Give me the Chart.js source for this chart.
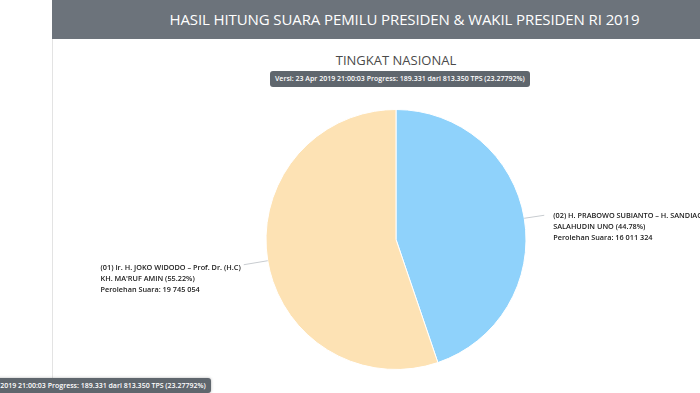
<!DOCTYPE html>
<html>
<head>
<meta charset="utf-8">
<script src="https://cdn.jsdelivr.net/npm/chart.js@4"></script>
<style>
  html, body { margin: 0; padding: 0; background: #fff; }
  body { width: 700px; height: 393px; position: relative; overflow: hidden; font-family: "Open Sans", sans-serif; }
  #side { position: absolute; left: 52px; top: 0; width: 1px; height: 393px; background: #e3e3e3; }
  #header { position: absolute; left: 52px; top: 0; width: 591px; padding-left: 57px; height: 39px; background: #6c737b;
            color: #fff; font-size: 15px; line-height: 38px; text-align: center; letter-spacing: -0.1px; white-space: nowrap; }
  #sub { position: absolute; left: 52px; top: 51px; width: 688px; text-align: center; font-size: 13px; color: #4a4a4a; }
  .badge { position: absolute; background: #5f666d; color: #fff; font-size: 7px; font-weight: 600;
           padding: 0 5px; height: 16px; line-height: 16px; border-radius: 3px; white-space: nowrap; }
  #wrap { position: absolute; left: 0; top: 0; width: 700px; height: 393px; }
</style>
</head>
<body>
<div id="side"></div>
<div id="header">HASIL HITUNG SUARA PEMILU PRESIDEN &amp; WAKIL PRESIDEN RI 2019</div>
<div id="sub">TINGKAT NASIONAL</div>
<div class="badge" id="versi" style="left:270px; top:71px;"></div>
<div class="badge" id="tip" style="top:378px; height:15px; line-height:15px; box-shadow: 0 0 3px rgba(0,0,0,0.3);"></div>
<div id="wrap"><canvas id="pie"></canvas></div>
<script>
const versiText = 'Versi: 23 Apr 2019 21:00:03 Progress: 189.331 dari 813.350 TPS (23.27792%)';
const candidates = ['(02) H. PRABOWO SUBIANTO \u2013 H. SANDIAGA', '(01) Ir. H. JOKO WIDODO \u2013 Prof. Dr. (H.C)'];
const partners = ['SALAHUDIN UNO', 'KH. MA\'RUF AMIN'];
const votes = [16011324, 19745054];
const colors = ['#8fd2fb', '#fde2b4'];

document.getElementById('versi').textContent = versiText;
const tip = document.getElementById('tip');
tip.textContent = versiText;
// the stray tooltip is cut off at the left edge
tip.style.left = (211 - tip.offsetWidth) + 'px';

const total = votes.reduce((a, b) => a + b, 0);

function fmtVotes(v) {
    return String(v).replace(/\B(?=(\d{3})+(?!\d))/g, ' ');
}

// leader lines + labels beside each slice
const sliceLabels = {
    id: 'sliceLabels',
    afterDraw(chart) {
        const ctx = chart.ctx;
        const meta = chart.getDatasetMeta(0);
        ctx.save();
        ctx.font = '600 7.3px "Open Sans", sans-serif';
        ctx.fillStyle = '#1a1a1a';
        ctx.textBaseline = 'middle';
        meta.data.forEach((arc, i) => {
            const mid = (arc.startAngle + arc.endAngle) / 2;
            const r = arc.outerRadius;
            const x0 = arc.x + Math.cos(mid) * r;
            const y0 = arc.y + Math.sin(mid) * r;
            const right = Math.cos(mid) >= 0;
            const x1 = x0 + (right ? 20 : -24);
            const y1 = y0 + (right ? -3 : 4);
            ctx.strokeStyle = '#c8ccd0';
            ctx.lineWidth = 1;
            ctx.beginPath();
            ctx.moveTo(x0, y0);
            ctx.lineTo(x1, y1);
            ctx.stroke();
            const pct = (votes[i] / total * 100).toFixed(2);
            const lines = [candidates[i], partners[i] + ' (' + pct + '%)', 'Perolehan Suara: ' + fmtVotes(votes[i])];
            ctx.textAlign = 'left';
            let tx;
            if (right) {
                tx = x1 + 9;
            } else {
                const w = Math.max(...lines.map(l => ctx.measureText(l).width));
                tx = x1 - 3 - w;
            }
            lines.forEach((l, k) => {
                ctx.fillText(l, tx, y1 + (right ? 1 : 3) + k * 11);
            });
        });
        ctx.restore();
    }
};

function draw() {
    new Chart(document.getElementById('pie'), {
        type: 'pie',
        data: {
            labels: candidates,
            datasets: [{
                data: votes,
                backgroundColor: colors,
                borderColor: '#ffffff',
                borderWidth: 1
            }]
        },
        options: {
            responsive: true,
            maintainAspectRatio: false,
            animation: false,
            layout: { padding: { top: 109, bottom: 23, left: 100, right: 8 } },
            plugins: {
                legend: { display: false },
                tooltip: { enabled: false }
            }
        },
        plugins: [sliceLabels]
    });
}

document.fonts.load('600 8px "Open Sans"').then(draw, draw);
</script>
</body>
</html>
